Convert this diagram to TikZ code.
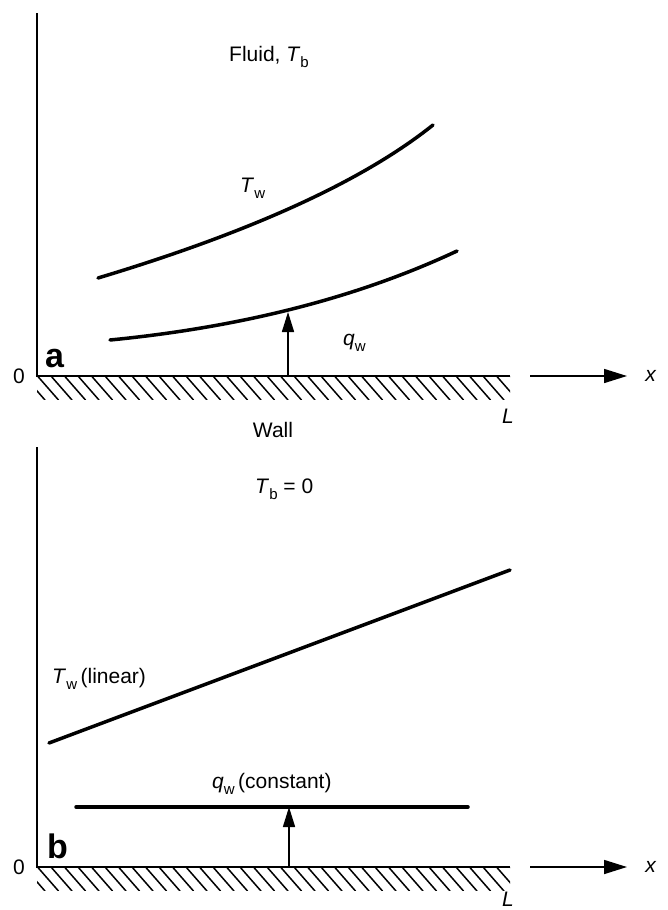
\documentclass[tikz,border=0pt]{standalone}
\usepackage{fontspec}
\setmainfont{Liberation Sans}
\usetikzlibrary{arrows.meta,positioning}
\newcommand{\qsym}[2]{\textit{#1}\raisebox{-6pt}{\fontsize{15}{15}\selectfont #2}}

\begin{document}
\begin{tikzpicture}[
    x=1pt, y=-1pt,
    lbl/.style={font=\fontsize{21}{25}\selectfont, inner sep=0pt},
    tag/.style={font=\fontsize{34}{34}\selectfont\bfseries, inner sep=0pt},
    axis/.style={line width=2pt},
    curve/.style={line width=3.5pt, line cap=round},
    hatch/.style={line width=1.5pt},
    flux/.style={-{Triangle[length=20pt,width=12pt]}, line width=1.6pt},
    dir/.style={-{Triangle[length=23pt,width=14pt]}, line width=1.6pt}
]
\useasboundingbox (0,0) rectangle (667,910);

% Panel a
\coordinate (aTop) at (37,13);
\coordinate (aO) at (37,376);
\coordinate (aEnd) at (510,376);
\draw[axis] (aTop) -- (aO) -- (aEnd);
\begin{scope}
  \clip (37,376) rectangle (510,399);
  \foreach \h in {0,...,36} \draw[hatch] ({24+13.5*\h},376) -- ++(21,24);
\end{scope}
\node[lbl] (azero) at (19,376) {0};
\node[tag, anchor=base west] (atag) at (45,367) {a};
\node[lbl] (ax) at (651,376) {\textit{x}};
\coordinate (axs) at (530,376);
\coordinate (axe) at (627,376);
\draw[dir] (axs) -- (axe);
\node[lbl] (aL) at (508,416) {\textit{L}};
\node[lbl, anchor=base] (wall) at (273,437) {Wall};
\node[lbl, anchor=base west] (fluid) at (229,61) {Fluid, \qsym{T}{b}};

% Wall temperature and flux curves
\draw[curve] (98,278) .. controls (251,232) and (363,181) .. (433,125);
\draw[curve] (110,340) .. controls (243,327) and (359,297) .. (457,251);
\node[lbl, anchor=base west] (atw) at (240,192) {\qsym{T}{w}};
\node[lbl, anchor=base west] (aqw) at (343,345) {\qsym{q}{w}};
\coordinate (aqs) at (288,376);
\coordinate (aqe) at (288,312);
\draw[flux] (aqs) -- (aqe);

% Panel b
\coordinate (bTop) at (37,447);
\coordinate (bO) at (37,867);
\coordinate (bEnd) at (510,867);
\draw[axis] (bTop) -- (bO) -- (bEnd);
\begin{scope}
  \clip (37,867) rectangle (510,890);
  \foreach \h in {0,...,36} \draw[hatch] ({24+13.5*\h},867) -- ++(21,24);
\end{scope}
\node[lbl] (bzero) at (19,867) {0};
\node[tag, anchor=base west] (btag) at (47,858) {b};
\node[lbl] (bx) at (651,867) {\textit{x}};
\coordinate (bxs) at (530,867);
\coordinate (bxe) at (627,867);
\draw[dir] (bxs) -- (bxe);
\node[lbl] (bL) at (508,899) {\textit{L}};
\node[lbl, anchor=base west] (tb) at (255,493) {\qsym{T}{b} = 0};

% Linear wall temperature, constant flux
\draw[curve] (49,743) -- (510,570);
\draw[curve] (76,807) -- (468,807);
\node[lbl, anchor=base west] (btw) at (52,683) {\qsym{T}{w}\,(linear)};
\node[lbl, anchor=base west] (bqw) at (212,788) {\qsym{q}{w}\,(constant)};
\coordinate (bqs) at (289,867);
\coordinate (bqe) at (289,807);
\draw[flux] (bqs) -- (bqe);

\end{tikzpicture}
\end{document}
